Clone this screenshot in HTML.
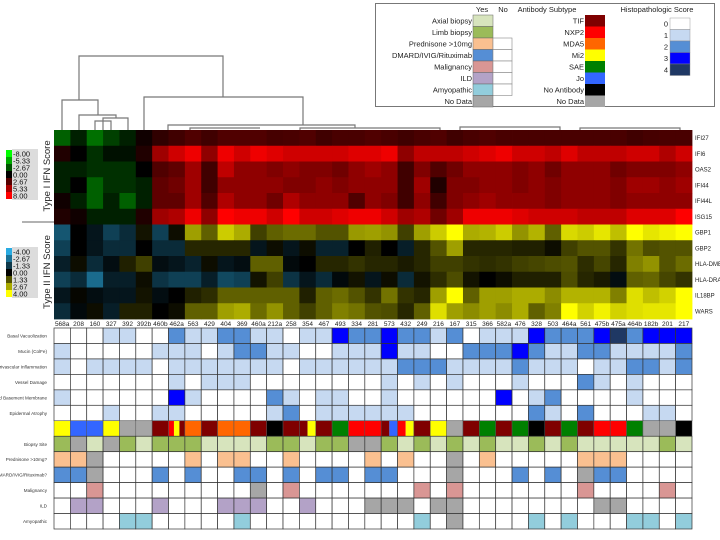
<!DOCTYPE html>
<html><head><meta charset="utf-8"><style>
html,body{margin:0;padding:0;background:#fff;}
svg{display:block;font-family:"Liberation Sans",sans-serif;}
</style></head><body>
<svg id="chart" width="720" height="540" viewBox="0 0 720 540" xmlns="http://www.w3.org/2000/svg">
<g id="dendro" stroke="#777" stroke-width="1.2" fill="none">
<polyline points="79,100 79,56 223,56 223,97"/>
<polyline points="62,130 62,100 98,100 98,115"/>
<polyline points="79,130 79,115 116,115 116,118"/>
<polyline points="103,130 103,118 128,118 128,130"/>
<polyline points="95,130 95,121 111,121 111,130"/>
<polyline points="144,130 144,97 303,97 303,125"/>
<polyline points="168,130 168,125 355,125 355,128"/>
<polyline points="190,130 190,128 260,128"/>
<polyline points="300,130 300,128 440,128 440,130"/>
<polyline points="460,130 460,127 560,127 560,130"/>
<polyline points="580,130 580,128 680,128 680,130"/>
</g>
<g id="legend"></g>
<g id="heat"></g>
<g id="grid"></g>
<g id="scales"></g>
</svg>
<script>
const samples=["568a","208","160","327","392","392b","460b","462a","563","429","404","369","460a","212a","258","354","467","493","334","281","573","432","249","216","167","315","366","582a","476","328","503","464a","561","475b","475a","464b","182b","201","217"];
const type1Genes=["IFI27","IFI6","OAS2","IFI44","IFI44L","ISG15"];
const type2Genes=["GBP1","GBP2","HLA-DMB","HLA-DRA","IL18BP","WARS"];
const IFI27=[-3,-1,-3.5,-2,-1,0.5,1.5,2,2.5,2,2.5,2.5,2.5,2.2,2.3,2.5,2,2.3,2.3,2.5,2.3,2,2.3,2.5,2,2.3,2.5,2.3,2.3,2.3,2.3,2.3,2.3,2.3,2.3,2,2.2,2.3,2.3];
const IFI6=[1,0,-1.5,-0.5,-0.5,1,5,6.5,7.5,4.5,7.5,6.5,7.5,7,6.5,6.5,6.5,6.5,7,7,7.5,4.5,6,6,6,6.5,7,7.5,6.5,6.5,6,7,6,6,6,6.5,6.5,5.5,6.5];
const OAS2=[-1,-1,-1.5,-1.5,-1.5,0,2.5,3,5,2,6,4.5,4.5,4,4.5,4,4,3.5,4.5,5,4.5,2,4,2.5,3.5,4.5,4.5,4.5,4,4.5,3.5,4.5,4.5,4.5,3.5,4,4,4,4.5];
const IFI44=[-1,0,-3,-1.5,-1.5,-1,3,3.5,5,2,4.5,4.5,4.5,4.5,4,4,4.5,4,4.5,4.5,4.5,2,5,1,4,4,4.5,4.5,4,4.5,4,4.5,4.5,4.5,4,5,5,4.5,5];
const IFI44L=[0.5,-1,-3,-1,-3,-1,3,3,5,2.5,5.5,4.5,4.5,3.5,5.5,4.5,4.5,4.5,2.5,4.5,4,2,4.5,2,4,4.5,5,4.5,4.5,4.5,4,4.5,4.5,4.5,4,4.5,4.5,4.5,4.5];
const ISG15=[1,0.5,-1,-1,-1,1,5,5.5,7.5,4.5,8,7.5,7.5,6.5,8,6.5,6.5,7,7.5,7.5,6.5,5,5.5,3.5,5,7.5,7.5,7.5,7,6.5,6.5,6.5,6,6,6,7,7,7,8];
const GBP1=[-2,0,-0.5,-1.5,-1,0.3,-1.5,0.2,2.5,1.5,3.2,2.7,1,1.5,1.7,1.7,1.3,1.3,2.4,2.5,2.3,1,2.5,3.2,4,2.7,2.8,3.2,2.3,2.8,1.5,3.4,3.2,3.6,3,4,3.6,3.8,4];
const GBP2=[-1.5,0,-0.5,-1,-1,0,-1,-1,0.6,0.6,0.6,0.6,-0.5,0.2,-0.5,0.2,-0.8,-0.8,0,0.5,0,-0.7,0.6,1.3,2.5,0.6,0.6,0.6,0.5,0.5,0.2,1,1.3,1.3,0.8,1.8,1.2,1.3,1.3];
const HLADMB=[-0.7,0.2,-1,-0.3,0.5,1,-0.3,-0.5,-0.8,0.2,-0.5,-0.3,1.5,1.5,-0.2,0,0.6,0.6,0.8,0.6,0.6,0.4,0.6,1,1,0.8,0.7,0.8,1,1.1,1.2,1.3,0.7,1.1,0.6,2,2.3,1.3,1.7];
const HLADRA=[-1.5,-1,-2.5,-0.7,-0.7,0.2,-1.2,-1.5,-1.5,-0.7,-1.7,-1.5,0.3,1,-1.2,-0.5,-1,-0.2,0.3,-0.5,0.2,-1,0.3,0.7,1.2,0.3,0,0.2,0.5,0.5,0.5,1.2,0.6,0.4,-0.3,1.5,1.6,1.1,0.8];
const IL18BP=[-0.5,0.1,-0.3,-0.5,-0.5,0.3,-0.3,0,0.5,0.7,1.5,1.5,1.5,1.5,1.5,0.5,1.5,1.7,1.3,0.8,1.8,0.8,0.6,2.5,4,1.5,2.5,2.5,2.7,2.7,2.2,2.8,2.8,2.8,2,3.5,3,3.3,4];
const WARS=[-1,-0.2,0.2,-0.7,0.5,0.5,0,0.2,1.5,1.5,2.5,2.7,1.7,2.3,1.5,1,1.5,2,1.8,1.3,1.2,0.6,1.5,3.5,2.5,2.2,2.5,2.2,2.7,1.5,2,4,3.3,3.8,3.3,3.5,3.6,3.6,4];
const type1Values=[IFI27,IFI6,OAS2,IFI44,IFI44L,ISG15];
const type2Values=[GBP1,GBP2,HLADMB,HLADRA,IL18BP,WARS];
const type1Ticks=["-8.00","-5.33","-2.67","0.00","2.67","5.33","8.00"];
const type2Ticks=["-4.00","-2.67","-1.33","0.00","1.33","2.67","4.00"];
const histoLabels=["Basal Vacuolization","Mucin (ColFe)","Perivascular Inflammation","Vessel Damage","Thickened Basement Membrane","Epidermal Atrophy"];
const basalVac=[0,0,0,1,1,0,0,2,1,1,2,2,1,1,0,1,1,3,2,2,3,2,2,1,2,0,1,1,1,3,2,2,2,3,4,2,3,3,3];
const mucin=[1,0,0,0,0,0,1,1,1,0,1,2,2,1,1,0,0,1,1,1,3,1,1,0,0,2,2,2,3,2,1,1,2,2,1,1,1,1,2];
const perivasc=[1,0,1,1,1,1,0,1,1,1,1,1,1,1,0,1,1,1,1,1,1,2,2,2,1,1,1,1,2,1,1,1,0,1,1,2,2,1,2];
const vesselDmg=[0,0,0,0,0,0,0,1,0,1,1,1,0,0,0,0,0,0,0,0,1,0,1,0,1,0,0,0,1,0,0,0,2,1,0,1,0,0,0];
const thickBM=[1,0,0,0,0,0,0,3,1,0,0,0,0,2,1,0,1,1,0,0,1,0,0,0,0,0,0,3,0,1,2,0,0,0,0,1,0,0,0];
const epiAtrophy=[0,0,0,1,0,0,1,1,0,0,0,0,0,1,2,0,1,1,1,1,1,1,0,0,0,0,0,0,0,2,1,0,2,0,0,0,1,1,0];
const histoValues=[basalVac,mucin,perivasc,vesselDmg,thickBM,epiAtrophy];
const antibody=["Mi2","Jo","Jo","Mi2","ND","ND","TIF","NXP2|Mi2|TIF","MDA5","TIF","MDA5","MDA5","TIF","None","TIF","TIF|Mi2","TIF","SAE","NXP2","NXP2","TIF|Jo","NXP2|Mi2","TIF","Mi2","ND","TIF","SAE","TIF","SAE","None","TIF","SAE","TIF","NXP2","NXP2","SAE","ND","ND","None"];
const biopsySite=["L","N","A","N","L","A","L","L","L","A","A","A","A","L","L","A","L","L","N","N","L","A","L","A","L","A","L","A","A","L","A","L","A","A","A","A","A","L","A"];
const clinicalLabels=["Prednisone >10mg?","DMARD/IVIG/Rituximab?","Malignancy","ILD","Amyopathic"];
const prednisone=[1,1,2,0,0,0,0,0,1,0,1,1,0,0,1,0,0,0,0,1,0,1,0,0,2,0,1,0,0,0,0,0,1,1,1,0,0,0,0];
const dmard=[1,1,2,0,0,0,1,0,1,0,0,1,1,0,1,0,1,1,0,1,1,0,0,0,2,0,0,0,1,0,1,0,2,1,1,0,0,0,0];
const malignancy=[0,0,1,0,0,0,0,0,0,0,0,0,2,0,1,0,0,0,0,0,0,0,1,0,1,0,0,0,0,0,0,0,1,0,0,0,0,1,0];
const ild=[0,1,1,0,0,0,1,0,0,0,1,1,1,0,0,1,0,0,0,2,2,2,0,2,2,0,0,0,0,0,0,0,0,2,2,0,0,0,0];
const amyopathic=[0,0,0,0,1,1,0,0,0,0,0,1,0,0,0,0,0,0,0,0,0,0,1,0,2,0,0,0,0,1,0,1,0,0,0,1,1,0,1];
const clinicalValues=[prednisone,dmard,malignancy,ild,amyopathic];

const NS="http://www.w3.org/2000/svg";
function mk(tag,attrs,parent){const e=document.createElementNS(NS,tag);for(const k in attrs)e.setAttribute(k,attrs[k]);parent.appendChild(e);return e;}
const X0=54,X1=692,colW=(X1-X0)/samples.length;
const HY0=130,rowH=(319-130)/12;
const xs=i=>X0+i*colW;
const yHeat=r=>HY0+r*rowH;
function c1(v){const t=Math.max(-1,Math.min(1,v/8));return t>=0?`rgb(${Math.round(255*t)},0,0)`:`rgb(0,${Math.round(255*-t)},0)`;}
function c2(v){const t=Math.max(-1,Math.min(1,v/4));return t>=0?`rgb(${Math.round(255*t)},${Math.round(255*t)},0)`:`rgb(${Math.round(41*-t)},${Math.round(171*-t)},${Math.round(226*-t)})`;}
const heat=document.getElementById('heat');
type1Values.forEach((row,r)=>{row.forEach((v,i)=>{
 const e=mk('rect',{x:xs(i),y:yHeat(r),width:colW+0.4,height:rowH+0.4,fill:c1(v)},heat);
 
 
});
 const t=mk('text',{x:695,y:yHeat(r)+rowH/2+2.2,'font-size':6,fill:'#222'},heat);t.textContent=type1Genes[r];
 
 
});
type2Values.forEach((row,r)=>{row.forEach((v,i)=>{
 const e=mk('rect',{x:xs(i),y:yHeat(r+6),width:colW+0.4,height:rowH+0.4,fill:c2(v)},heat);
 
 
});
 const t=mk('text',{x:695,y:yHeat(r+6)+rowH/2+2.2,'font-size':6,fill:'#222'},heat);t.textContent=type2Genes[r];
 
 
});
samples.forEach((s,i)=>{const t=mk('text',{x:xs(i)+colW/2,y:326,'font-size':6.5,'text-anchor':'middle',fill:'#222'},heat);t.textContent=s;
 
 
});
const grid=document.getElementById('grid');
const GY0=328,gH=(529-328)/13;
const gy=r=>GY0+r*gH;
const histoCol=["#ffffff","#c6d9f1","#558ed5","#0000ff","#1f3864"];
const abCol={TIF:"#7f0000",NXP2:"#ff0000",MDA5:"#ff6600",Mi2:"#ffff00",SAE:"#008000",Jo:"#3366ff",None:"#000000",ND:"#a6a6a6"};
const siteCol={A:"#d7e4bd",L:"#9bbb59",N:"#a6a6a6"};
const clinYes=["#fac090","#558ed5","#d99694","#b3a2c7","#92cddc"];
function cell(i,r,fill,name){const e=mk('rect',{x:xs(i),y:gy(r),width:colW,height:gH,fill:fill,stroke:'#333','stroke-width':0.7},grid);
 
 
 return e;}
function rowLabel(r,txt){const t=mk('text',{x:47,y:gy(r)+gH/2+1.8,'font-size':4.6,'text-anchor':'end',fill:'#333'},grid);t.textContent=txt;
 
 }
histoValues.forEach((row,r)=>{row.forEach((v,i)=>cell(i,r,histoCol[v],'histo-cell'));rowLabel(r,histoLabels[r]);});
antibody.forEach((a,i)=>{const parts=a.split('|');const w=colW/parts.length;
 parts.forEach((p,k)=>{const e=mk('rect',{x:xs(i)+k*w,y:gy(6),width:w,height:gH,fill:abCol[p]},grid);
 
 });
 mk('rect',{x:xs(i),y:gy(6),width:colW,height:gH,fill:'none',stroke:'#555','stroke-width':0.5},grid);});
biopsySite.forEach((s,i)=>cell(i,7,siteCol[s],'biopsy-site-cell'));rowLabel(7,"Biopsy Site");
clinicalValues.forEach((row,r)=>{row.forEach((v,i)=>cell(i,r+8,v===1?clinYes[r]:(v===2?"#a6a6a6":"#ffffff"),'clinical-cell'));rowLabel(r+8,clinicalLabels[r]);});
const sc=document.getElementById('scales');
function scale(y0,ticks,colFn,maxV,title,ty){
 mk('rect',{x:12,y:y0-1,width:26,height:ticks.length*7+2,fill:'#dcdcdc'},sc);
 ticks.forEach((t,k)=>{const v=parseFloat(t);const e=mk('rect',{x:6,y:y0+k*7,width:6,height:7,fill:colFn(v)},sc);
 
 
 const tx=mk('text',{x:13,y:y0+k*7+6.3,'font-size':7.5,fill:'#111'},sc);tx.textContent=t;
 
 });
 const tt=mk('text',{x:0,y:0,'font-size':9.5,'text-anchor':'middle',fill:'#222',transform:`translate(50,${ty}) rotate(-90)`},sc);tt.textContent=title;
 
 
}
scale(150,type1Ticks,c1,8,"Type I IFN Score",176);
scale(248,type2Ticks,c2,4,"Type II IFN Score",272);
mk('line',{x1:22,y1:222,x2:54,y2:222,stroke:'#666','stroke-width':1},sc);
const lg=document.getElementById('legend');
mk('rect',{x:375.5,y:3.5,width:339,height:103,fill:'#fff',stroke:'#777','stroke-width':1},lg);
function lt(x,y,txt,anchor){const t=mk('text',{x:x,y:y,'font-size':7.5,'text-anchor':anchor||'end',fill:'#222'},lg);t.textContent=txt;
 
 }
lt(482,12,"Yes","middle");lt(503,12,"No","middle");lt(547,12,"Antibody Subtype","middle");lt(657,12,"Histopathologic Score","middle");
const ynLabels=["Axial biopsy","Limb biopsy","Prednisone >10mg","DMARD/IVIG/Rituximab","Malignancy","ILD","Amyopathic","No Data"];
const ynCols=["#d7e4bd","#9bbb59","#fac090","#558ed5","#d99694","#b3a2c7","#92cddc","#a6a6a6"];
const LH=11.5,LY=15;
ynLabels.forEach((l,k)=>{const e=mk('rect',{x:473,y:LY+k*LH,width:20,height:LH,fill:ynCols[k],stroke:'#666','stroke-width':0.5},lg);
 
 
 if(k>=2&&k<=6)mk('rect',{x:493,y:LY+k*LH,width:19,height:LH,fill:'#fff',stroke:'#888','stroke-width':0.6},lg);
 lt(472,LY+k*LH+8.5,l);});
const abLabels=["TIF","NXP2","MDA5","Mi2","SAE","Jo","No Antibody","No Data"];
const abKeys=["TIF","NXP2","MDA5","Mi2","SAE","Jo","None","ND"];
abLabels.forEach((l,k)=>{const e=mk('rect',{x:585,y:LY+k*LH,width:20,height:LH,fill:abCol[abKeys[k]]},lg);
 
 
 lt(584,LY+k*LH+8.5,l);});
["0","1","2","3","4"].forEach((l,k)=>{const e=mk('rect',{x:670,y:LY+3+k*LH,width:20,height:LH,fill:histoCol[k],stroke:'#888','stroke-width':0.4},lg);
 
 
 lt(668,LY+3+k*LH+8.5,l);});
</script>
</body></html>
